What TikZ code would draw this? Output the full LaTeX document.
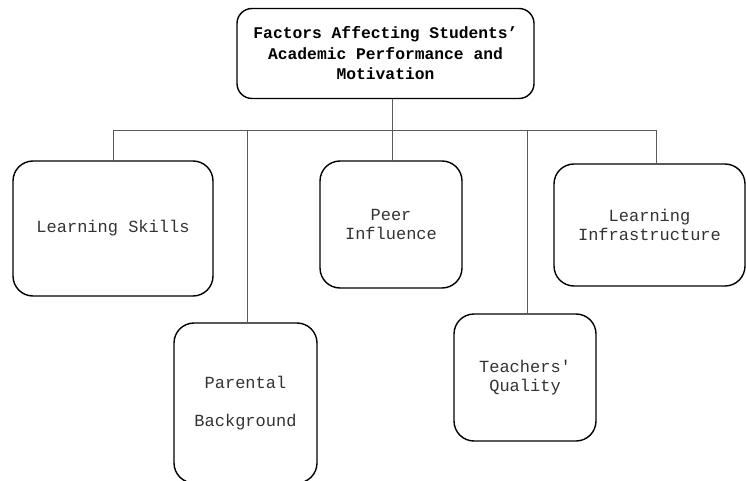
\documentclass[tikz,border=0pt]{standalone}
\usepackage{fontspec}
\setmainfont{Liberation Mono}[Ligatures=TeX]
\begin{document}
\begin{tikzpicture}[x=1pt,y=-1pt,
  box/.style={draw=black,line width=1.4pt,rounded corners=20pt,align=center,
    inner sep=0pt,font=\fontsize{17}{19.5}\selectfont,text=black!80},
  conn/.style={draw=black!65,line width=0.8pt}]
\useasboundingbox (0,0) rectangle (746,481);
\node[box,rounded corners=15pt,minimum width=297pt,minimum height=90pt,
  font=\fontsize{16.3}{20.5}\selectfont\bfseries,text=black] (title) at (385.5,53.5)
  {Factors Affecting Students’\\Academic Performance and\\Motivation};
\node[box,minimum width=200pt,minimum height=135pt] (ls) at (113,228.5) {Learning Skills};
\node[box,minimum width=143pt,minimum height=160pt,
  font=\fontsize{17}{38}\selectfont] (pb) at (245.5,403) {Parental\\Background};
\node[box,minimum width=142pt,minimum height=127pt] (pi) at (391,224.5) {Peer\\Influence};
\node[box,minimum width=142pt,minimum height=127pt] (tq) at (525,377.5) {Teachers\textquotesingle\\Quality};
\node[box,minimum width=191pt,minimum height=122pt] (li) at (649.5,225) {Learning\\Infrastructure};
\coordinate (barL) at (113,130);
\coordinate (barR) at (656,130);
\draw[conn] (barL) -- (barR);
\draw[conn] ([xshift=6.5pt]title.south) -- ([xshift=6.5pt]title.south |- barL);
\draw[conn] (ls.north) -- (ls.north |- barL);
\draw[conn] ([xshift=1.5pt]pb.north) -- ([xshift=1.5pt]pb.north |- barL);
\draw[conn] ([xshift=1pt]pi.north) -- ([xshift=1pt]pi.north |- barL);
\draw[conn] ([xshift=2pt]tq.north) -- ([xshift=2pt]tq.north |- barL);
\draw[conn] (barR) -- (barR |- li.north);
\end{tikzpicture}
\end{document}
